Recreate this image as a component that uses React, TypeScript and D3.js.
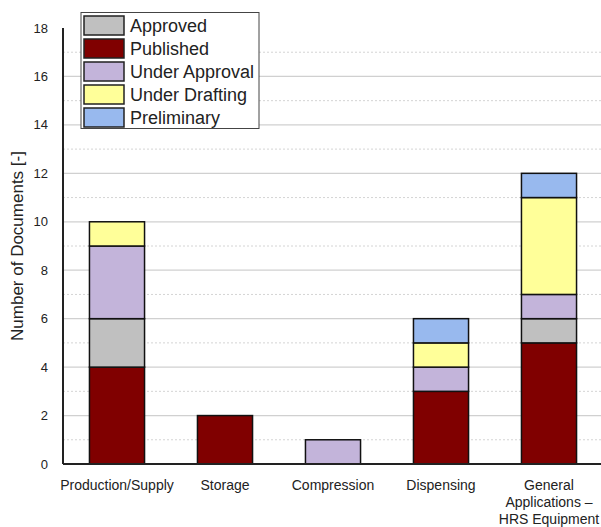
import React from "react";
import * as d3 from "d3";

const categories = ["Production/Supply", "Storage", "Compression", "Dispensing", "General Applications – HRS Equipment"];
const categoryLines = [["Production/Supply"], ["Storage"], ["Compression"], ["Dispensing"], ["General", "Applications –", "HRS Equipment"]];
const seriesNames = ["Published", "Approved", "Under Approval", "Under Drafting", "Preliminary"];
const published = [4, 2, 0, 3, 5];
const approved = [2, 0, 0, 0, 1];
const underApproval = [3, 0, 1, 1, 1];
const underDrafting = [1, 0, 0, 1, 4];
const preliminary = [0, 0, 0, 1, 1];
const legendOrder = ["Approved", "Published", "Under Approval", "Under Drafting", "Preliminary"];
const colors: Record<string, string> = {
  Approved: "#c0c0c0",
  Published: "#800000",
  "Under Approval": "#c3b4da",
  "Under Drafting": "#ffff99",
  Preliminary: "#98b9ee",
};
const yTicks = [0, 2, 4, 6, 8, 10, 12, 14, 16, 18];
const yMinorTicks = [1, 3, 5, 7, 9, 11, 13, 15, 17];

export default function App() {
  const W = 601, H = 527;
  const left = 63, right = 603, top = 28, bottom = 464;
  const x = d3.scaleBand<string>().domain(categories).range([left, right]).paddingInner(0.49).paddingOuter(0.245);
  const y = d3.scaleLinear().domain([0, 18]).range([bottom, top]);
  const seriesVals = [published, approved, underApproval, underDrafting, preliminary];
  const rows = categories.map((c, i) => {
    const r: any = { cat: c };
    seriesNames.forEach((s, k) => (r[s] = seriesVals[k][i]));
    return r;
  });
  const stacked = d3.stack<any>().keys(seriesNames)(rows);
  const font = "Arial, 'Liberation Sans', sans-serif";

  return (
    <svg width={W} height={H} style={{ position: "absolute", left: 0, top: 0, background: "#fff" }} fontFamily={font}>
      {yMinorTicks.map((t) => (
        <line key={"m" + t} x1={left} x2={W} y1={y(t)} y2={y(t)} stroke="#d4d4d4" strokeWidth={1} strokeDasharray="2,2" />
      ))}
      {yTicks.filter((t) => t > 0 && t < 18).map((t) => (
        <line key={"g" + t} x1={left} x2={W} y1={y(t)} y2={y(t)} stroke="#d0d0d0" strokeWidth={1.2} />
      ))}
      {stacked.map((layer) =>
        layer.map((d, i) =>
          d[1] - d[0] > 0 ? (
            <rect
              key={layer.key + i}
              x={x(categories[i])!}
              y={y(d[1])}
              width={x.bandwidth()}
              height={y(d[0]) - y(d[1])}
              fill={colors[layer.key]}
              stroke="#111"
              strokeWidth={1.5}
            />
          ) : null
        )
      )}
      <line x1={left} x2={left} y1={top} y2={bottom} stroke="#222" strokeWidth={2} />
      <line x1={left} x2={W} y1={bottom} y2={bottom} stroke="#222" strokeWidth={2} />
      {yTicks.map((t) => (
        <text key={"t" + t} x={48} y={y(t)} dy="0.35em" textAnchor="end" fontSize={13} fill="#222">
          {t}
        </text>
      ))}
      <text transform={`translate(23,${(top + bottom) / 2}) rotate(-90)`} textAnchor="middle" fontSize={17} fill="#222">
        Number of Documents [-]
      </text>
      {categories.map((c, i) => (
        <text key={c} x={x(c)! + x.bandwidth() / 2} y={490} textAnchor="middle" fontSize={14} fill="#222">
          {categoryLines[i].map((l, j) => (
            <tspan key={j} x={x(c)! + x.bandwidth() / 2} dy={j === 0 ? 0 : 17}>
              {l}
            </tspan>
          ))}
        </text>
      ))}
      <g>
        <rect x={81} y={12.5} width={178} height={116} fill="#fff" stroke="#444" strokeWidth={1} />
        {legendOrder.map((s, i) => (
          <g key={s}>
            <rect x={84} y={16 + i * 23} width={40} height={19} fill={colors[s]} stroke="#222" strokeWidth={1.5} />
            <text x={130} y={26 + i * 23} dy="0.35em" fontSize={18} fill="#222">
              {s}
            </text>
          </g>
        ))}
      </g>
    </svg>
  );
}
